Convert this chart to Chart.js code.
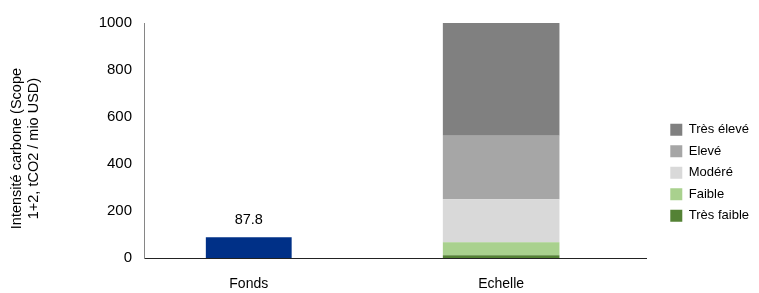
<!DOCTYPE html>
<html>
<head>
<meta charset="utf-8">
<script src="https://cdn.jsdelivr.net/npm/chart.js@4.4.0/dist/chart.umd.min.js"></script>
<style>
  html, body { margin: 0; padding: 0; background: #fff; }
  #wrap { width: 759px; height: 293px; }
</style>
</head>
<body>
<div id="wrap"><canvas id="graficoCarbone"></canvas></div>
<script>
// Intensité carbone - Fonds vs Echelle

const categories = ["Fonds", "Echelle"];
const fondsValues = [87.8, null];

const niveaux = ["Très faible", "Faible", "Modéré", "Elevé", "Très élevé"];
const echelleTresFaible = [null, 12];
const echelleFaible = [null, 55];
const echelleModere = [null, 183];
const echelleEleve = [null, 270];
const echelleTresEleve = [null, 480];

const yMin = 0;
const yMax = 1000;
const yStep = 200;

const couleurs = ["#548235", "#a9d18e", "#d9d9d9", "#a6a6a6", "#808080"];
const echelleSeries = [echelleTresFaible, echelleFaible, echelleModere, echelleEleve, echelleTresEleve];

Chart.defaults.font.family = "'Liberation Sans', Arial, sans-serif";
Chart.defaults.color = "#000";

const datasets = [
    {
        label: "Fonds",
        data: fondsValues,
        backgroundColor: "#003087",
        barPercentage: 0.34,
        categoryPercentage: 1,
    },
];
niveaux.forEach((nom, i) => {
    datasets.push({
        label: nom,
        data: echelleSeries[i],
        backgroundColor: couleurs[i],
        barPercentage: 0.462,
        categoryPercentage: 1,
    });
});

// étiquette de valeur au-dessus de la barre Fonds
const etiquetteFonds = {
    id: "etiquetteFonds",
    afterDatasetsDraw(chart) {
        const meta = chart.getDatasetMeta(0);
        const ctx = chart.ctx;
        meta.data.forEach((bar, i) => {
            const v = fondsValues[i];
            if (v == null) return;
            ctx.save();
            ctx.font = "14.5px 'Liberation Sans', Arial, sans-serif";
            ctx.fillStyle = "#000";
            ctx.textAlign = "center";
            ctx.textBaseline = "middle";
            ctx.fillText(v.toFixed(1), bar.x, bar.y - 17);
            ctx.restore();
        });
    },
};

// décale un peu la légende vers la droite
const decalageLegende = {
    id: "decalageLegende",
    afterLayout(chart) {
        chart.legend.left += 15;
        chart.legend.right += 15;
    },
};

const config = {
    type: "bar",
    data: {
        labels: categories.map((c, i) => i),
        datasets: datasets,
    },
    options: {
        responsive: true,
        maintainAspectRatio: false,
        animation: false,
        layout: { padding: { top: 23, right: 15, bottom: 0, left: 0 } },
        scales: {
            x: {
                type: "linear",
                stacked: true,
                min: -0.415,
                max: 1.577,
                offset: false,
                grid: { display: false },
                border: { display: true, color: "#222" },
                afterBuildTicks: (scale) => {
                    scale.ticks = categories.map((c, i) => ({ value: i }));
                },
                ticks: {
                    padding: 10,
                    maxRotation: 0,
                    font: { size: 14 },
                    callback: (v) => categories[v],
                },
                afterFit: (scale) => {
                    scale.height = 35;
                },
            },
            y: {
                stacked: true,
                min: yMin,
                max: yMax,
                grid: { display: false },
                border: { display: true, color: "#868686" },
                ticks: {
                    stepSize: yStep,
                    padding: 4,
                    font: { size: 15 },
                    callback: (v) => String(v),
                },
                title: {
                    display: true,
                    text: ["Intensité carbone (Scope    ", "1+2, tCO2 / mio USD)    "],
                    font: { size: 14.5 },
                    padding: { top: 8, bottom: 4 },
                },
                afterFit: (scale) => {
                    scale.width = 144;
                },
            },
        },
        plugins: {
            tooltip: { enabled: false },
            legend: {
                position: "right",
                reverse: true,
                title: { display: true, text: " ", padding: { top: 0, bottom: 15 } },
                labels: {
                    boxWidth: 12,
                    boxHeight: 12,
                    padding: 8.5,
                    font: { size: 13 },
                    filter: (item) => item.datasetIndex > 0,
                },
            },
        },
    },
    plugins: [etiquetteFonds, decalageLegende],
};

var graficoCarbone = new Chart(document.getElementById("graficoCarbone"), config);
</script>
</body>
</html>
